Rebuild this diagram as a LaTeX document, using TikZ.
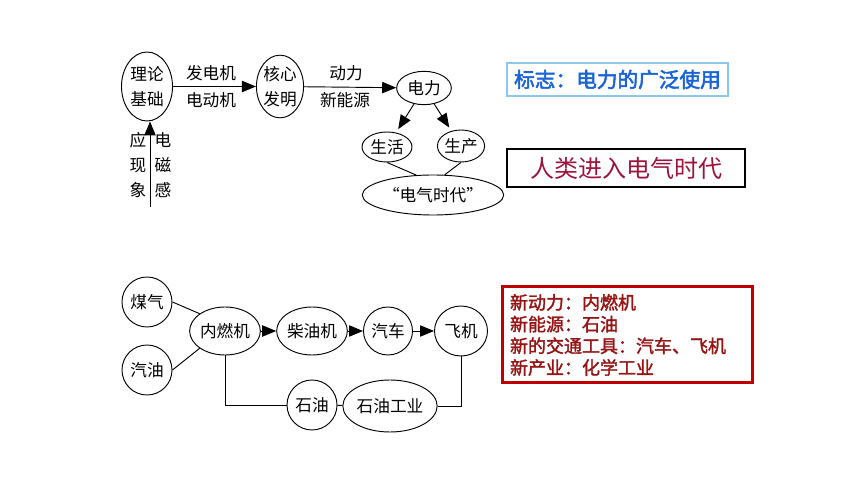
\documentclass[tikz,border=0pt]{standalone}
\usepackage{fontspec}
\newfontfamily\cjk{Noto Sans CJK SC}
\newfontfamily\cjkfb[FakeBold=2.5]{Noto Sans CJK SC}
\newfontfamily\cjkb[FakeBold=1.8]{Noto Sans CJK SC}
\usetikzlibrary{shapes.geometric,arrows.meta}
\definecolor{signblue}{RGB}{25,100,215}
\definecolor{signframe}{RGB}{140,200,238}
\definecolor{erared}{RGB}{155,20,60}
\definecolor{boxred}{RGB}{192,0,0}
\definecolor{txtred}{RGB}{150,20,20}
\begin{document}
\begin{tikzpicture}[x=0.75pt,y=-0.75pt,
  every node/.style={font=\cjk\fontsize{12.5}{19}\selectfont},
  ell/.style={draw,ellipse,inner sep=0pt,line width=0.7pt},
  arr/.style={line width=0.7pt,-{Triangle[length=10.5pt,width=8.5pt]}},
  ln/.style={line width=0.7pt}]
\useasboundingbox (0,0) rectangle (860,484);
% ---- top diagram ----
\node[ell,minimum width=38.25pt,minimum height=51.75pt,align=center] (n1) at (147,86.5) {理论\\基础};
\node[ell,minimum width=34.5pt,minimum height=47pt,align=center] (n2) at (280,86.5) {核心\\发明};
\node[ell,minimum width=41pt,minimum height=25pt] (n3) at (424,88) {电力};
\node[ell,minimum width=37.5pt,minimum height=22.5pt] (n4) at (387,147) {生活};
\node[ell,minimum width=35pt,minimum height=24pt] (n5) at (461,146) {生产};
\node[ell,minimum width=75pt,minimum height=30pt] (n6) at (433,195) {“电气时代”};
\draw[arr] (n1) -- (n2);
\draw[arr] (n2) -- (n3);
\node (l1) at (211,73) {发电机};
\node (l2) at (211,100) {电动机};
\node (l3) at (346,73) {动力};
\node (l4) at (345,100) {新能源};
\draw[arr,shorten >=3pt] (n3) -- (n4);
\draw[arr,shorten >=3pt] (n3) -- (n5);
\draw[ln] (n4.south) -- (n6.130);
\draw[ln] (n5.south) -- (n6.60);
\coordinate (v) at (150,207);
\draw[arr] (v) -- (v |- n1.south);
\node[align=center] (l5) at (138,165) {应\\现\\象};
\node[align=center] (l6) at (163,165) {电\\磁\\感};
% ---- right boxes ----
\node[draw=signframe,line width=0.8pt,minimum width=165.75pt,minimum height=24.75pt,
  text=signblue,font=\cjkfb\fontsize{15.5}{18}\selectfont] (b1) at (617.5,79.5)
  {标志：电力的广泛使用};
\node[draw=black,line width=1.5pt,minimum width=178.5pt,minimum height=28.5pt,
  text=erared,font=\cjk\fontsize{18}{20}\selectfont] (b2) at (626,168) {人类进入电气时代};
% ---- bottom diagram ----
\node[ell,circle,minimum size=37.5pt] (m1) at (147,302) {煤气};
\node[ell,circle,minimum size=37.5pt] (m2) at (147,370) {汽油};
\node[ell,minimum width=45pt,minimum height=36pt] (m3) at (225,331) {内燃机};
\node[ell,minimum width=45pt,minimum height=36pt] (m4) at (312,331) {柴油机};
\node[ell,minimum width=36.75pt,minimum height=36pt] (m5) at (388,331) {汽车};
\node[ell,minimum width=39.75pt,minimum height=37.5pt] (m6) at (461,331) {飞机};
\node[ell,circle,minimum size=37.5pt] (m7) at (312,405) {石油};
\node[ell,minimum width=52.5pt,minimum height=39pt] (m8) at (390,406) {石油工业};
\draw[ln] (m1.east) -- (m3.north west);
\draw[ln] (m2.east) -- (m3.south west);
\draw[arr] (m3) -- (m4);
\draw[arr] (m4) -- (m5);
\draw[arr] (m5) -- (m6);
\draw[ln] (m3.south) |- (m7.west);
\draw[ln] (m7) -- (m8);
\draw[ln] (m8.east) -| (m6.south);
% ---- red box ----
\node[draw=boxred,line width=2.25pt,minimum width=187.5pt,minimum height=72pt,
  inner xsep=6pt,text width=175.5pt,align=left,text=txtred,
  font=\cjkb\fontsize{13.5}{16.3}\selectfont] (b3) at (627,335)
  {新动力：内燃机\\新能源：石油\\新的交通工具：汽车、飞机\\新产业：化学工业};
\end{tikzpicture}
\end{document}
